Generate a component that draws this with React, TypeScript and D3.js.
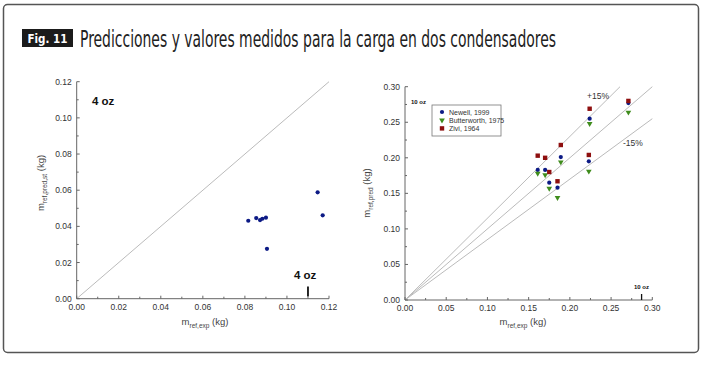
import React from "react";
import * as d3 from "d3";

// left chart (4 oz)
const leftExp = [0.0816, 0.0854, 0.0872, 0.0883, 0.09, 0.0905, 0.1146, 0.117];
const leftPred = [0.0431, 0.0446, 0.0435, 0.0442, 0.0448, 0.0276, 0.0588, 0.0461];
const leftTicks = [0, 0.02, 0.04, 0.06, 0.08, 0.1, 0.12];

// right chart (10 oz)
const rightExp = [0.161, 0.17, 0.175, 0.185, 0.189, 0.223, 0.224, 0.271];
const newell = [0.183, 0.183, 0.165, 0.158, 0.201, 0.195, 0.255, 0.277];
const butterworth = [0.178, 0.176, 0.157, 0.144, 0.194, 0.181, 0.248, 0.264];
const zivi = [0.203, 0.2, 0.18, 0.167, 0.218, 0.204, 0.269, 0.28];
const rightTicks = [0, 0.05, 0.1, 0.15, 0.2, 0.25, 0.3];
const bandFactors = [1.15, 1, 0.85];

const series = [
  { name: "Newell, 1999", values: newell, color: "#0c1a85", shape: "circle" },
  { name: "Butterworth, 1975", values: butterworth, color: "#3f8c1c", shape: "tri" },
  { name: "Zivi, 1964", values: zivi, color: "#8e0f0f", shape: "square" },
];

const axisColor = "#666";
const tickText = "#333";
const font = "Arial, 'Liberation Sans', sans-serif";
const narrow = "'Liberation Sans Narrow', 'DejaVu Sans Condensed', Roboto, sans-serif";

const Marker = ({ shape, x, y, color }: any) => {
  if (shape === "circle") return <circle cx={x} cy={y} r={2.1} fill={color} />;
  if (shape === "square") return <rect x={x - 2.2} y={y - 2.2} width={4.4} height={4.4} fill={color} />;
  const tri = d3.symbol().type(d3.symbolTriangle).size(14)();
  return <path d={tri || ""} transform={`translate(${x},${y}) rotate(180)`} fill={color} />;
};

const Axes = ({ x, y, ticks, fmt }: any) => {
  const [x0, x1] = x.range();
  const [y0, y1] = y.range();
  const step = ticks[1] - ticks[0];
  const minor = d3.range(0, ticks.length - 1).map((i) => ticks[i] + step / 2);
  return (
    <g>
      <line x1={x0} x2={x1} y1={y0} y2={y0} stroke={axisColor} strokeWidth={1} />
      <line x1={x0} x2={x0} y1={y0} y2={y1} stroke={axisColor} strokeWidth={1} />
      {ticks.map((t: number, i: number) => (
        <g key={"t" + i}>
          <line x1={x(t)} x2={x(t)} y1={y0} y2={y0 - 3} stroke={axisColor} />
          <line x1={x0} x2={x0 + 3} y1={y(t)} y2={y(t)} stroke={axisColor} />
          <text x={x(t)} y={y0 + 11} textAnchor="middle" fontSize={8.5} fill={tickText} fontFamily={font}>
            {fmt(t)}
          </text>
          <text x={x0 - 5} y={y(t) + 3} textAnchor="end" fontSize={8.5} fill={tickText} fontFamily={font}>
            {fmt(t)}
          </text>
        </g>
      ))}
      {minor.map((t: number, i: number) => (
        <g key={"m" + i}>
          <line x1={x(t)} x2={x(t)} y1={y0} y2={y0 - 2} stroke={axisColor} />
          <line x1={x0} x2={x0 + 2} y1={y(t)} y2={y(t)} stroke={axisColor} />
        </g>
      ))}
    </g>
  );
};

const AxisLabel = ({ x, y, sub, rotate }: any) => (
  <text
    x={x}
    y={y}
    transform={rotate ? `rotate(-90,${x},${y})` : undefined}
    textAnchor="middle"
    fontSize={9.5}
    fill="#444"
    fontFamily={font}
  >
    m<tspan fontSize={6.5} dy={2.5}>{sub}</tspan>
    <tspan dy={-2.5}> (kg)</tspan>
  </text>
);

export default function App() {
  const fmt = d3.format(".2f");

  const xl = d3.scaleLinear().domain([0, 0.12]).range([76.7, 329]);
  const yl = d3.scaleLinear().domain([0, 0.12]).range([298.7, 81.7]);

  const xr = d3.scaleLinear().domain([0, 0.3]).range([405, 652.3]);
  const yr = d3.scaleLinear().domain([0, 0.3]).range([300, 86.7]);

  return (
    <svg width={704} height={367} style={{ position: "absolute", left: 0, top: 0, background: "#fff" }}>
      <rect x={3.5} y={4.5} width={695} height={348} rx={4} fill="#fff" stroke="#555" strokeWidth={1.5} />

      {/* title */}
      <rect x={22} y={29} width={51} height={18} fill="#1b1b1b" />
      <text x={47.5} y={42.5} textAnchor="middle" fontSize={13} fontWeight="bold" fill="#fff"
        textLength={40} lengthAdjust="spacingAndGlyphs" fontFamily={narrow}>Fig. 11</text>
      <text x={80} y={47} fontSize={23} fill="#222" textLength={476} lengthAdjust="spacingAndGlyphs"
        fontFamily={narrow}>
        Predicciones y valores medidos para la carga en dos condensadores
      </text>

      {/* left chart */}
      <line x1={xl(0)} y1={yl(0)} x2={xl(0.12)} y2={yl(0.12)} stroke="#bbb" strokeWidth={1} />
      <Axes x={xl} y={yl} ticks={leftTicks} fmt={fmt} />
      {leftExp.map((v, i) => (
        <circle key={i} cx={xl(v)} cy={yl(leftPred[i])} r={2.1} fill="#0c1a85" />
      ))}
      <text x={92} y={105} fontSize={11.5} fontWeight="bold" fill="#111" fontFamily={font}>4 oz</text>
      <text x={294} y={279} fontSize={11.5} fontWeight="bold" fill="#111" fontFamily={font}>4 oz</text>
      <line x1={xl(0.11)} x2={xl(0.11)} y1={286.5} y2={296.5} stroke="#111" strokeWidth={1.8} />
      <AxisLabel x={205} y={325} sub="ref,exp" />
      <AxisLabel x={44} y={183} sub="ref,pred,st" rotate />

      {/* right chart */}
      {bandFactors.map((f, i) => {
        const xe = Math.min(0.3, 0.3 / f);
        return (
          <line key={i} x1={xr(0)} y1={yr(0)} x2={xr(xe)} y2={yr(xe * f)} stroke="#bbb" strokeWidth={1} />
        );
      })}
      <Axes x={xr} y={yr} ticks={rightTicks} fmt={fmt} />
      {series.map((s) =>
        rightExp.map((v, i) => (
          <Marker key={s.name + i} shape={s.shape} x={xr(v)} y={yr(s.values[i])} color={s.color} />
        ))
      )}
      <text x={587} y={99} fontSize={8.5} fill="#333" fontFamily={font}>+15%</text>
      <text x={623} y={146} fontSize={8.5} fill="#333" fontFamily={font}>-15%</text>
      <text x={411} y={104} fontSize={6} fontWeight="bold" fill="#111" fontFamily={font}>10 oz</text>
      <text x={634} y={289} fontSize={6} fontWeight="bold" fill="#111" fontFamily={font}>10 oz</text>
      <line x1={xr(0.287)} x2={xr(0.287)} y1={294} y2={300} stroke="#111" strokeWidth={1.3} />

      {/* legend */}
      <rect x={432} y={105} width={69} height={31} fill="#fff" stroke="#777" strokeWidth={0.8} />
      {series.map((s, i) => (
        <g key={s.name}>
          <Marker shape={s.shape} x={442} y={112 + i * 8.2} color={s.color} />
          <text x={449} y={114.5 + i * 8.2} fontSize={7} fill="#333" fontFamily={font}>{s.name}</text>
        </g>
      ))}
      <AxisLabel x={523} y={325} sub="ref,exp" />
      <AxisLabel x={370} y={193} sub="ref,pred" rotate />
    </svg>
  );
}
